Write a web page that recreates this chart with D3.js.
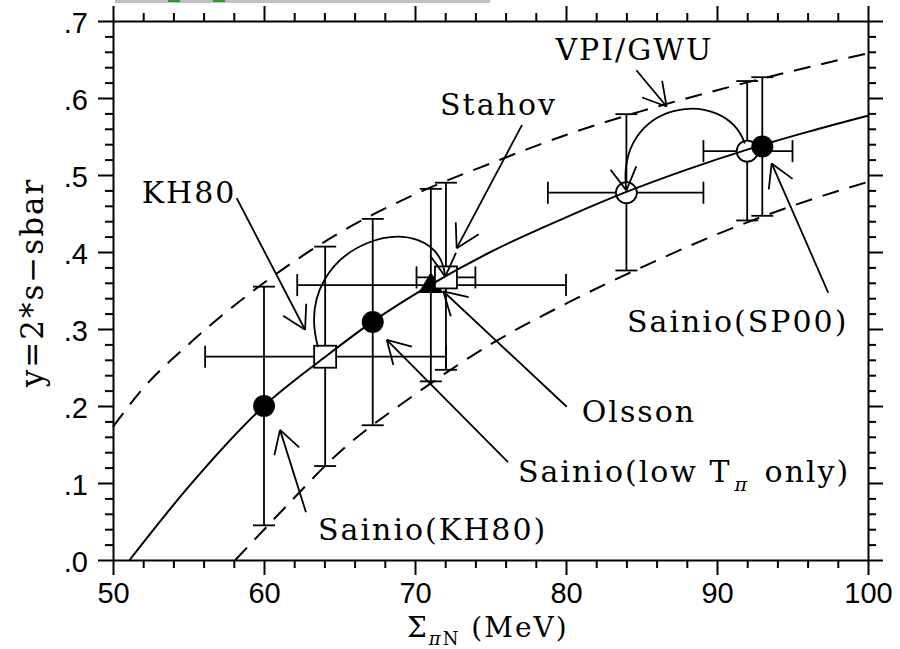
<!DOCTYPE html>
<html>
<head>
<meta charset="utf-8">
<script src="https://cdn.jsdelivr.net/npm/d3@7"></script>
<style>
  body { margin: 0; background: #fff; }
  svg { display: block; }
</style>
</head>
<body>
<svg id="chart"></svg>
<script>
// ---- data ----
const xTicks = [50, 60, 70, 80, 90, 100];
const xTickLabels = ["50", "60", "70", "80", "90", "100"];
const yTicks = [0, 0.1, 0.2, 0.3, 0.4, 0.5, 0.6, 0.7];
const yTickLabels = [".0", ".1", ".2", ".3", ".4", ".5", ".6", ".7"];

// solid central curve
const fitX = [51.1, 55, 60, 64, 67, 71, 75, 80, 84, 88, 92, 96, 100];
const fitY = [0, 0.095, 0.2, 0.263, 0.307, 0.357, 0.4, 0.445, 0.478, 0.507, 0.533, 0.556, 0.577];
// dashed band
const upperX = [50, 52, 55, 60, 65, 70, 75, 80, 85, 90, 95, 100];
const upperY = [0.173, 0.223, 0.28, 0.36, 0.425, 0.475, 0.515, 0.552, 0.583, 0.61, 0.635, 0.658];
const lowerX = [58.1, 61, 65, 70, 75, 80, 85, 90, 95, 100];
const lowerY = [0, 0.06, 0.14, 0.215, 0.28, 0.333, 0.38, 0.423, 0.46, 0.491];

// data points
const ptX = [60, 64.05, 67.2, 71.05, 72.05, 84, 92, 93];
const ptY = [0.2, 0.264, 0.309, 0.357, 0.367, 0.477, 0.531, 0.537];
const ptYLo = [0.045, 0.122, 0.175, 0.232, 0.247, 0.376, 0.441, 0.447];
const ptYHi = [0.355, 0.407, 0.443, 0.482, 0.49, 0.579, 0.622, 0.627];
const ptXLo = [null, 56.1, null, 62.2, 70.1, 78.8, 89.1, null];
const ptXHi = [null, 72.05, null, 80, 74, 89.1, 95, null];
const ptSymbol = ["dot", "square", "dot", "triangle", "square", "ring", "ring", "dot"];

// labels: text pieces (sub = subscript), anchor in data coords
const noteParts = [
  [["VPI/GWU"]],
  [["Stahov"]],
  [["KH80"]],
  [["Olsson"]],
  [["Sainio(low T"], ["\u03c0", "sub"], [" only)"]],
  [["Sainio(KH80)"]],
  [["Sainio(SP00)"]]
];
const noteX = [79.3, 71.66, 51.9, 81.04, 76.82, 63.58, 84.04];
const noteY = [0.649, 0.578, 0.4636, 0.1796, 0.101, 0.026, 0.296];

// straight arrows: tail -> tip (data coords)
const arrowFromX = [84.66, 77.09, 58.19, 80.05, 76.16, 62.78, 97.37];
const arrowFromY = [0.636, 0.565, 0.47, 0.199, 0.127, 0.062, 0.347];
const arrowToX = [86.66, 72.76, 62.72, 71.87, 68.13, 61.06, 93.62];
const arrowToY = [0.589, 0.405, 0.299, 0.349, 0.286, 0.169, 0.515];

// curved arrows (cubic, start, c1, c2, end) in data coords
const arcKH80 = [[63.58, 0.2766], [61.6, 0.415], [71.5, 0.468], [72.0, 0.368]];
const arcVPI = [[91.84, 0.541], [90.5, 0.617], [83.2, 0.597], [84.0, 0.48]];

// ---- layout ----
const W = 900, H = 649;
const x = d3.scaleLinear().domain([50, 100]).range([113, 868]);
const y = d3.scaleLinear().domain([0, 0.7]).range([560, 21]);
const serifFont = "'DejaVu Serif', 'Liberation Serif', serif";
const sansFont = "'Liberation Sans', Arial, sans-serif";

const svg = d3.select("#chart").attr("width", W).attr("height", H);
svg.append("rect").attr("width", W).attr("height", H).attr("fill", "#fff");

// cropped header strip at the very top
svg.append("rect").attr("x", 115).attr("y", 0).attr("width", 375).attr("height", 3).attr("fill", "#c0c0c0");
svg.append("rect").attr("x", 168).attr("y", 0).attr("width", 12).attr("height", 2).attr("fill", "#2a9a2a");
svg.append("rect").attr("x", 213).attr("y", 0).attr("width", 12).attr("height", 2).attr("fill", "#2a9a2a");

// ---- axes ----
const xMinor = d3.range(50, 101, 2).filter((v) => v % 10 !== 0);
const yMinor = d3.range(0, 36).map((i) => i * 0.02).filter((v, i) => i % 5 !== 0);

function styleAxis(g) {
  g.select(".domain").attr("stroke", "#000").attr("stroke-width", 2);
  g.selectAll(".tick line").attr("stroke", "#000").attr("stroke-width", 2);
  g.selectAll("text")
    .attr("fill", "#000")
    .attr("font-family", sansFont)
    .attr("font-size", 29);
}

// bottom
const gxb = svg.append("g").attr("transform", `translate(0,${y(0)})`);
gxb.call(d3.axisBottom(x).tickValues(xTicks).tickFormat((d, i) => xTickLabels[i])
  .tickSize(15).tickSizeOuter(0).tickPadding(7));
gxb.append("g").call(d3.axisBottom(x).tickValues(xMinor).tickFormat("").tickSize(8).tickSizeOuter(0))
  .call((g) => g.select(".domain").remove());
gxb.call(styleAxis);

// top
const gxt = svg.append("g").attr("transform", `translate(0,${y(0.7)})`);
gxt.call(d3.axisTop(x).tickValues(xTicks).tickFormat("").tickSize(15).tickSizeOuter(0));
gxt.append("g").call(d3.axisTop(x).tickValues(xMinor).tickFormat("").tickSize(8).tickSizeOuter(0))
  .call((g) => g.select(".domain").remove());
gxt.call(styleAxis);

// left
const gyl = svg.append("g").attr("transform", `translate(${x(50)},0)`);
gyl.call(d3.axisLeft(y).tickValues(yTicks).tickFormat((d, i) => yTickLabels[i])
  .tickSize(15).tickSizeOuter(0).tickPadding(10));
gyl.append("g").call(d3.axisLeft(y).tickValues(yMinor).tickFormat("").tickSize(8).tickSizeOuter(0))
  .call((g) => g.select(".domain").remove());
gyl.call(styleAxis);
gyl.selectAll(".tick text").attr("dy", "0.4em");

// right
const gyr = svg.append("g").attr("transform", `translate(${x(100)},0)`);
gyr.call(d3.axisRight(y).tickValues(yTicks).tickFormat("").tickSize(15).tickSizeOuter(0));
gyr.append("g").call(d3.axisRight(y).tickValues(yMinor).tickFormat("").tickSize(8).tickSizeOuter(0))
  .call((g) => g.select(".domain").remove());
gyr.call(styleAxis);

// axis titles
svg.append("text")
  .attr("transform", `translate(43,${(y(0) + y(0.7)) / 2 - 8}) rotate(-90)`)
  .attr("text-anchor", "middle")
  .attr("font-family", serifFont)
  .attr("font-size", 31)
  .attr("letter-spacing", 2)
  .text("y=2*s\u2212sbar");

const xt = svg.append("text")
  .attr("x", 407)
  .attr("y", 637)
  .attr("font-family", serifFont)
  .attr("font-size", 28)
  .attr("letter-spacing", 2);
xt.append("tspan").text("\u03a3");
xt.append("tspan").attr("font-size", 18).attr("font-style", "italic").attr("dy", 8).text("\u03c0");
xt.append("tspan").attr("font-size", 18).text("N");
xt.append("tspan").attr("dy", -8).text(" (MeV)");

// ---- plot content ----
const plot = svg.append("g");

// error bars
const cap = 11;
ptX.forEach((px, i) => {
  const cx = x(px), cy = y(ptY[i]);
  plot.append("line").attr("x1", cx).attr("x2", cx).attr("y1", y(ptYLo[i])).attr("y2", y(ptYHi[i]));
  plot.append("line").attr("x1", cx - cap).attr("x2", cx + cap).attr("y1", y(ptYLo[i])).attr("y2", y(ptYLo[i]));
  plot.append("line").attr("x1", cx - cap).attr("x2", cx + cap).attr("y1", y(ptYHi[i])).attr("y2", y(ptYHi[i]));
  if (ptXLo[i] !== null) {
    plot.append("line").attr("x1", x(ptXLo[i])).attr("x2", x(ptXHi[i])).attr("y1", cy).attr("y2", cy);
    plot.append("line").attr("x1", x(ptXLo[i])).attr("x2", x(ptXLo[i])).attr("y1", cy - cap).attr("y2", cy + cap);
    plot.append("line").attr("x1", x(ptXHi[i])).attr("x2", x(ptXHi[i])).attr("y1", cy - cap).attr("y2", cy + cap);
  }
});
plot.selectAll("line").attr("stroke", "#000").attr("stroke-width", 1.8);

// symbols
ptX.forEach((px, i) => {
  const cx = x(px), cy = y(ptY[i]);
  const s = ptSymbol[i];
  if (s === "dot") {
    plot.append("circle").attr("cx", cx).attr("cy", cy).attr("r", 11).attr("fill", "#000");
  } else if (s === "ring") {
    plot.append("circle").attr("cx", cx).attr("cy", cy).attr("r", 10.5)
      .attr("fill", "#fff").attr("stroke", "#000").attr("stroke-width", 1.8);
  } else if (s === "square") {
    plot.append("rect").attr("x", cx - 11).attr("y", cy - 11).attr("width", 22).attr("height", 22)
      .attr("fill", "#fff").attr("stroke", "#000").attr("stroke-width", 1.8);
  } else if (s === "triangle") {
    plot.append("path")
      .attr("d", `M${cx},${cy - 13}L${cx + 12.5},${cy + 8}L${cx - 12.5},${cy + 8}Z`)
      .attr("fill", "#000");
  }
});

// curves
const line = d3.line().x((d) => x(d[0])).y((d) => y(d[1])).curve(d3.curveMonotoneX);
plot.append("path").datum(fitX.map((v, i) => [v, fitY[i]]))
  .attr("d", line).attr("fill", "none").attr("stroke", "#000").attr("stroke-width", 2);
plot.append("path").datum(upperX.map((v, i) => [v, upperY[i]]))
  .attr("d", line).attr("fill", "none").attr("stroke", "#000").attr("stroke-width", 2)
  .attr("stroke-dasharray", "17,11");
plot.append("path").datum(lowerX.map((v, i) => [v, lowerY[i]]))
  .attr("d", line).attr("fill", "none").attr("stroke", "#000").attr("stroke-width", 2)
  .attr("stroke-dasharray", "17,11");

// arrows
function arrowHead(tipX, tipY, fromX, fromY) {
  const a = Math.atan2(fromY - tipY, fromX - tipX);
  const len = 26, spread = Math.PI / 6;
  [a - spread, a + spread].forEach((b) => {
    plot.append("line")
      .attr("x1", tipX).attr("y1", tipY)
      .attr("x2", tipX + len * Math.cos(b)).attr("y2", tipY + len * Math.sin(b))
      .attr("stroke", "#000").attr("stroke-width", 1.8);
  });
}

arrowFromX.forEach((fx, i) => {
  const x1 = x(fx), y1 = y(arrowFromY[i]), x2 = x(arrowToX[i]), y2 = y(arrowToY[i]);
  plot.append("line").attr("x1", x1).attr("y1", y1).attr("x2", x2).attr("y2", y2)
    .attr("stroke", "#000").attr("stroke-width", 1.8);
  arrowHead(x2, y2, x1, y1);
});

[arcKH80, arcVPI].forEach((arc) => {
  const p = arc.map((d) => [x(d[0]), y(d[1])]);
  const path = d3.path();
  path.moveTo(p[0][0], p[0][1]);
  path.bezierCurveTo(p[1][0], p[1][1], p[2][0], p[2][1], p[3][0], p[3][1]);
  plot.append("path").attr("d", path.toString())
    .attr("fill", "none").attr("stroke", "#000").attr("stroke-width", 1.8);
  arrowHead(p[3][0], p[3][1], p[2][0], p[2][1]);
});

// labels
noteParts.forEach((parts, i) => {
  const t = svg.append("text")
    .attr("x", x(noteX[i]))
    .attr("y", y(noteY[i]))
    .attr("font-family", serifFont)
    .attr("font-size", 30)
    .attr("letter-spacing", 2)
    .attr("fill", "#000");
  let shifted = false;
  parts.forEach(([txt, kind]) => {
    const ts = t.append("tspan").text(txt);
    if (kind === "sub") {
      ts.attr("font-size", 19).attr("font-style", "italic").attr("dx", 3).attr("dy", 9);
      shifted = true;
    } else if (shifted) {
      ts.attr("dx", 4).attr("dy", -9);
      shifted = false;
    }
  });
});
</script>
</body>
</html>
